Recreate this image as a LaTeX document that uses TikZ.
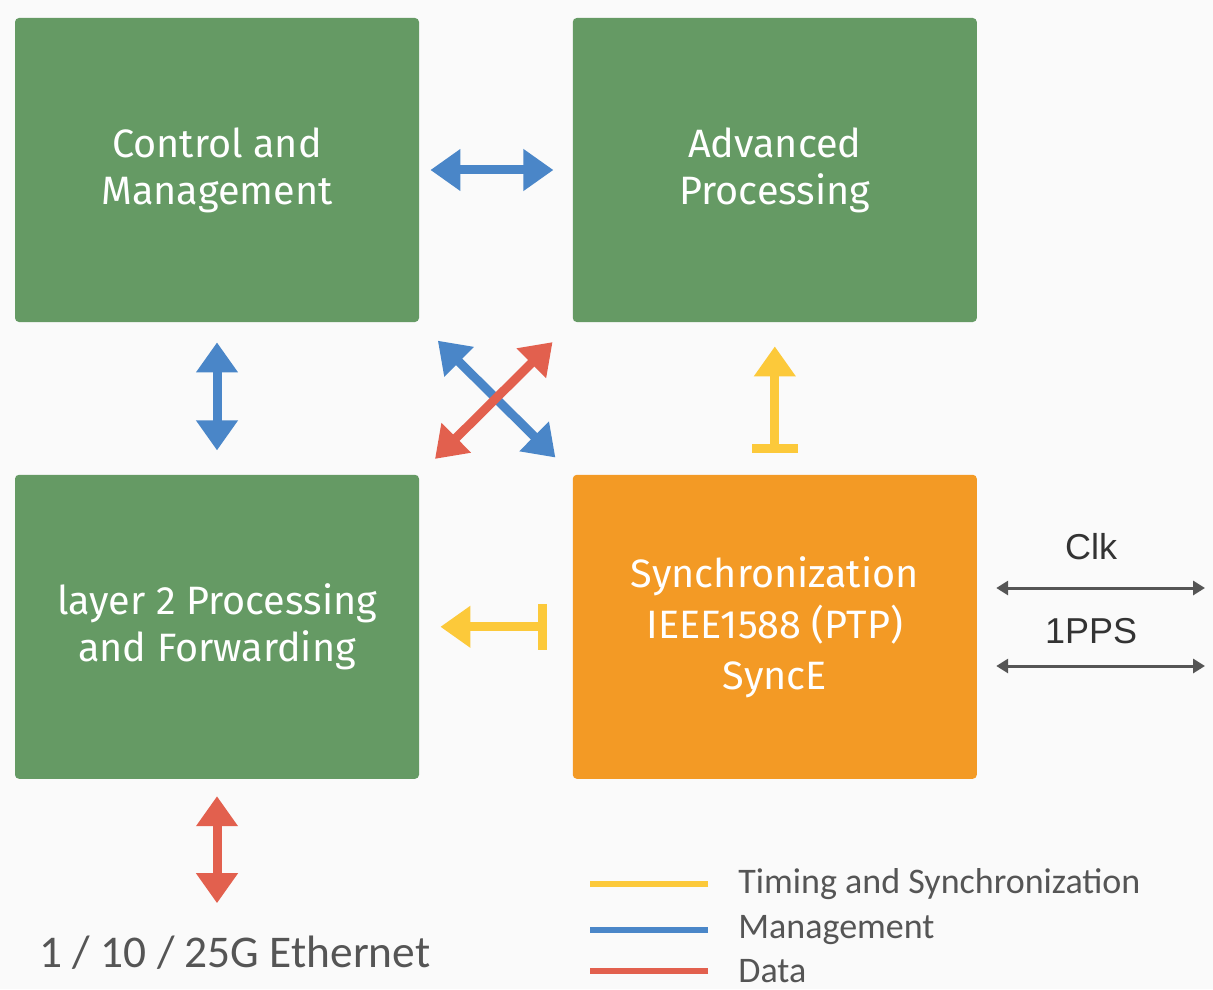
\documentclass[tikz,border=0pt]{standalone}
\usepackage{fontspec}
\setmainfont{Fira Sans}
\newfontfamily\keyfont{Carlito}
\newfontfamily\sigfont{Liberation Sans}
\usetikzlibrary{arrows.meta,positioning}

\definecolor{blockgreen}{HTML}{659A64}
\definecolor{syncorange}{HTML}{F39A25}
\definecolor{mgmtblue}{HTML}{4A86C8}
\definecolor{datared}{HTML}{E2604E}
\definecolor{timeyellow}{HTML}{FCC93A}
\definecolor{textgray}{HTML}{555555}
\definecolor{bggray}{HTML}{FAFAFA}

\begin{document}
\begin{tikzpicture}[x=0.5pt, y=-0.5pt,
    block/.style={fill=blockgreen, rounded corners=2pt, minimum width=202pt, minimum height=152pt, align=center, text=white, font=\fontsize{19.8}{23.5}\selectfont},
    syncbox/.style={block, fill=syncorange, font=\fontsize{19.8}{25.5}\selectfont},
    mgmt/.style={draw=mgmtblue, line width=4.5pt, {Triangle[length=15pt, width=20pt]}-{Triangle[length=15pt, width=20pt]}},
    data/.style={draw=datared, line width=4.5pt, {Triangle[length=15pt, width=20pt]}-{Triangle[length=15pt, width=20pt]}},
    timing/.style={draw=timeyellow, line width=4.5pt, {Bar[width=23pt]}-{Triangle[length=15pt, width=20pt]}},
    signal/.style={draw=textgray, line width=1.5pt, {Triangle[length=6pt, width=7pt]}-{Triangle[length=6pt, width=7pt]}},
    sigtext/.style={text=black!80, font=\sigfont\fontsize{18}{20}\selectfont},
    keyline/.style={line width=3pt},
    keytext/.style={anchor=west, inner sep=0pt, text=textgray, font=\keyfont\fontsize{18}{20}\selectfont}
]
    % Background
    \fill[bggray] (0,0) rectangle (1213,989);

    % Blocks
    \node[block] (control) at (217,170) {Control and\\Management};
    \node[block, right=76.5pt of control] (advanced) {Advanced\\Processing};
    \node[block, below=76pt of control] (layer2) {layer 2 Processing\\and Forwarding};
    \node[syncbox, right=76.5pt of layer2] (sync) {Synchronization\\IEEE1588 (PTP)\\SyncE};

    % Ethernet port
    \node[text=textgray, font=\keyfont\fontsize{22.7}{26}\selectfont] (ether) at (235,953) {1 / 10 / 25G Ethernet};

    % Management
    \draw[mgmt, shorten <=5.5pt, shorten >=9.5pt] (control) -- (advanced);
    \draw[mgmt, shorten <=10pt, shorten >=12pt] (control) -- (layer2);
    \draw[mgmt, shorten <=13pt, shorten >=12pt] (control.south east) -- (sync.north west);

    % Data
    \draw[data, shorten <=14pt, shorten >=11pt] (advanced.south west) -- (layer2.north east);
    \draw[data, shorten <=8.5pt, shorten >=13pt] (layer2.south) -- (layer2.south |- ether.north);

    % Timing
    \draw[timing, shorten <=10.5pt, shorten >=12pt] (sync.north) -- (sync.north |- advanced.south);
    \draw[timing, shorten <=12.5pt, shorten >=10.5pt] (sync.west) -- (layer2.east);

    % Clock outputs
    \coordinate (clkout) at (1205,588);
    \coordinate (ppsout) at (1205,666);
    \draw[signal, shorten <=9.5pt] (sync.east |- clkout) -- node[sigtext, above=10pt] (clk) {Clk} (clkout);
    \draw[signal, shorten <=9.5pt] (sync.east |- ppsout) -- node[sigtext, above=7pt] (pps) {1PPS} (ppsout);

    % Legend
    \node[keytext] (keytime) at (738,884) {Timing and Synchronization};
    \node[keytext] (keymgmt) at (738,930) {Management};
    \node[keytext] (keydata) at (738,971) {Data};
    \draw[keyline, timeyellow] ([xshift=-15pt]keytime.west) -- ++(-59pt,0);
    \draw[keyline, mgmtblue] ([xshift=-15pt]keymgmt.west) -- ++(-59pt,0);
    \draw[keyline, datared] ([xshift=-15pt]keydata.west) -- ++(-59pt,0);
\end{tikzpicture}
\end{document}
